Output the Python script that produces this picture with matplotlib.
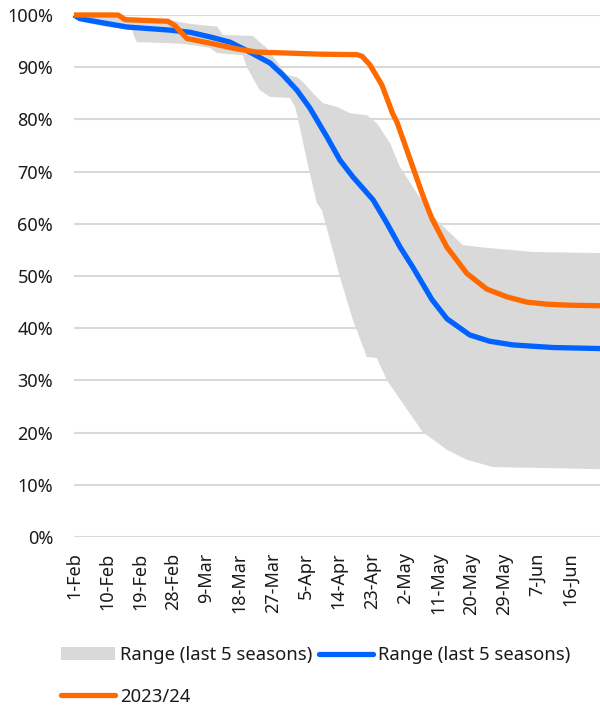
import matplotlib
matplotlib.use("Agg")
import matplotlib.pyplot as plt
from matplotlib.patches import Patch
from matplotlib.lines import Line2D
import numpy as np

plt.rcParams['font.family'] = ['Noto Sans', 'DejaVu Sans']

# x positions are days since 1-Feb
tick_days = [0, 9, 18, 27, 36, 45, 54, 63, 72, 81, 90, 99, 108, 117, 126, 135]
tick_labels = ["1-Feb", "10-Feb", "19-Feb", "28-Feb", "9-Mar", "18-Mar", "27-Mar",
               "5-Apr", "14-Apr", "23-Apr", "2-May", "11-May", "20-May", "29-May",
               "7-Jun", "16-Jun"]

upper_days = [0, 12, 26, 31.5, 37, 38.9, 40.5, 48.6, 50.5, 52.4, 55.2, 57.9, 60.6, 62.2,
              65, 67.7, 71.5, 75, 79.6, 82.3, 85.9, 88.6, 93.2, 98.6, 105.7, 112.2,
              124.7, 143]
upper_vals = [100, 99.8, 99.0, 98.3, 97.9, 97.8, 96.2, 96.0, 94.8, 93.7, 91.0, 88.5, 88.1,
              87.2, 85.0, 83.1, 82.4, 81.2, 80.8, 79.3, 75.5, 70.9, 65.9, 60.7, 55.9,
              55.4, 54.6, 54.4]

lower_days = [0, 2.4, 9, 15.8, 16.6, 17.1, 26.1, 30.7, 37, 38.9, 45.9, 47, 50.5, 53.3,
              58.7, 60.1, 61.4, 63.3, 66, 67.4, 69.6, 72.3, 75.8, 79.6, 82.3, 85.1,
              89.4, 94.8, 101.4, 106.8, 113.9, 128.5, 143]
lower_vals = [100, 98.6, 97.7, 97.1, 95.5, 94.8, 94.6, 94.4, 93.7, 92.7, 92.3, 90.0, 85.6,
              84.3, 84.1, 82.4, 78.5, 72.2, 64.0, 62.6, 56.9, 49.8, 41.6, 34.5, 34.3,
              30.0, 25.6, 20.1, 16.7, 14.8, 13.4, 13.2, 13.0]

avg_days = [0, 1.6, 7.9, 14.4, 26.1, 31.5, 37, 42.4, 47.8, 53.3, 56.8, 60.6, 64.1, 68.8,
            72.3, 75.8, 81.3, 85, 88.6, 92.1, 97.3, 101.4, 107.6, 113, 119.3, 130.2, 143]
avg_vals = [100, 99.3, 98.5, 97.7, 97.1, 96.7, 95.8, 94.8, 92.9, 90.8, 88.5, 85.6, 82.2,
            76.6, 72.2, 69.0, 64.6, 60.2, 55.6, 51.7, 45.5, 41.8, 38.7, 37.5, 36.8,
            36.3, 36.1]

cur_days = [0, 12, 13.9, 25.5, 27.4, 30.7, 37, 41.6, 44.3, 49.7, 66.8, 76.9, 78.3, 80.4,
            83.7, 86.7, 87.8, 91.3, 94.8, 97.3, 101.4, 106.8, 112.2, 117.7, 123.1,
            128.5, 134.8, 143]
cur_vals = [100, 100, 99.1, 98.8, 98.0, 95.5, 94.6, 93.9, 93.5, 92.9, 92.5, 92.4, 92.1,
            90.5, 86.6, 81.0, 79.5, 72.5, 65.5, 61.0, 55.5, 50.5, 47.5, 46.0, 45.0, 44.6,
            44.4, 44.3]

gray = "#d9d9d9"
blue = "#0062ff"
orange = "#ff6a00"
fs = 13

fig = plt.figure(figsize=(6, 7.08), dpi=100)
ax = fig.add_axes([74/600, 1-537/708, 1-74/600, (537-15)/708])

poly_x = np.concatenate([upper_days, lower_days[::-1]])
poly_y = np.concatenate([upper_vals, lower_vals[::-1]]) / 100
ax.fill(poly_x, poly_y, color=gray, lw=0, zorder=2)
ax.plot(avg_days, np.array(avg_vals)/100, color=blue, lw=3.8, zorder=3,
        solid_capstyle='butt', clip_on=False)
ax.plot(cur_days, np.array(cur_vals)/100, color=orange, lw=3.8, zorder=4,
        solid_capstyle='butt', clip_on=False)

ax.set_xlim(0, 143)
ax.set_ylim(0, 1)
ax.set_yticks(np.arange(0, 1.01, 0.1))
ax.set_yticklabels([f"{int(round(v*100))}%" for v in np.arange(0, 1.01, 0.1)])
ax.set_xticks(tick_days)
ax.set_xticklabels(tick_labels, rotation=90)
ax.tick_params(axis='both', length=0, labelsize=fs, colors='#1a1a1a')
ax.tick_params(axis='y', pad=15)
ax.tick_params(axis='x', pad=11)
ax.yaxis.grid(True, color=gray, lw=1.5, zorder=0)
ax.set_axisbelow(True)
for s in ax.spines.values():
    s.set_visible(False)

handles = [Patch(facecolor=gray, edgecolor='none'),
           Line2D([0], [0], color=orange, lw=3.8, solid_capstyle='round'),
           Line2D([0], [0], color=blue, lw=3.8, solid_capstyle='round')]
labels = ["Range (last 5 seasons)", "2023/24", "Range (last 5 seasons)"]
leg = fig.legend(handles, labels, loc='upper left', bbox_to_anchor=(61/600, 1-646/708),
                 ncol=2, frameon=False, fontsize=fs + 0.3, handlelength=2.9,
                 handletextpad=0.28, columnspacing=0.4, labelspacing=1.28, borderpad=0,
                 borderaxespad=0)
for t in leg.get_texts():
    t.set_color('#1a1a1a')

fig.savefig("out.png", dpi=100)
